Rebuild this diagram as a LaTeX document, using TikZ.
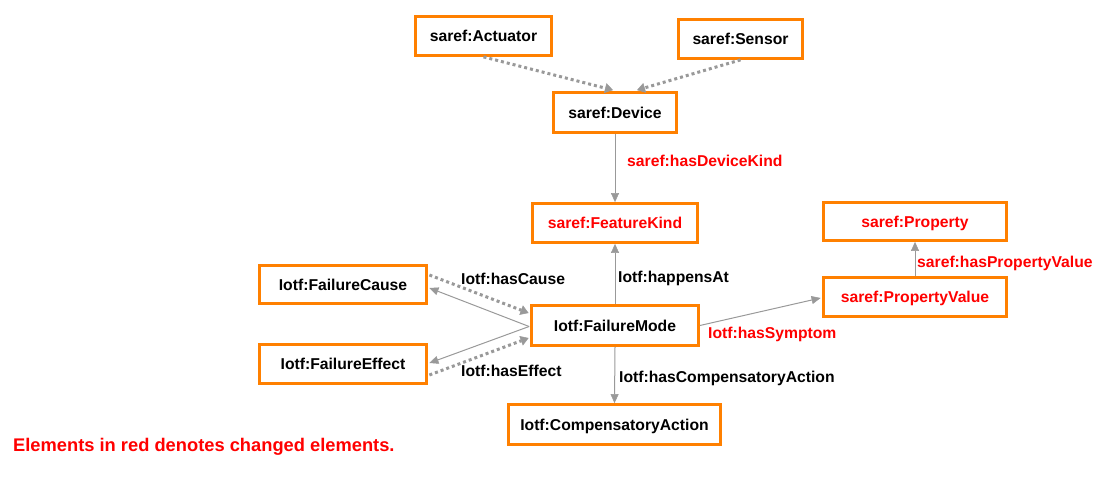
\documentclass[tikz,border=0pt]{standalone}
\usepackage{fontspec}
\setmainfont{Liberation Sans}
\usetikzlibrary{arrows.meta,calc}
\definecolor{boxorange}{RGB}{255,128,0}
\definecolor{chred}{RGB}{255,0,0}
\definecolor{linegray}{RGB}{153,153,153}
\tikzset{
  box/.style={draw=boxorange, line width=2.8pt, fill=white, inner sep=0pt,
    font=\fontsize{15.7}{18}\selectfont\bfseries, text height=11.3pt, text depth=0pt},
  redtxt/.style={text=chred},
  lbl/.style={anchor=base west, inner sep=0pt, font=\fontsize{15.7}{18}\selectfont\bfseries},
  rel/.style={draw=linegray, line width=1pt, -{Triangle[length=9pt,width=8pt,line width=0.5pt]}},
  sub/.style={draw=linegray, line width=3pt, dash pattern=on 3pt off 3pt,
    -{Triangle[length=8pt,width=10pt,line width=0.5pt]}}
}
\begin{document}
\begin{tikzpicture}[x=1pt,y=-1pt]
\useasboundingbox (0,0) rectangle (1111,487);
\node[box, minimum width=136pt, minimum height=39pt] (act) at (483.5,36) {saref:Actuator};
\node[box, minimum width=124pt, minimum height=39pt] (sen) at (740.5,39) {saref:Sensor};
\node[box, minimum width=123pt, minimum height=40pt] (dev) at (615,112.5) {saref:Device};
\node[box, redtxt, minimum width=165pt, minimum height=39pt] (fk) at (615,223) {saref:FeatureKind};
\node[box, redtxt, minimum width=183pt, minimum height=38pt] (prop) at (915,221.5) {saref:Property};
\node[box, redtxt, minimum width=183pt, minimum height=39pt] (pv) at (915,297) {saref:PropertyValue};
\node[box, minimum width=167pt, minimum height=38pt] (fc) at (343,284.5) {Iotf:FailureCause};
\node[box, minimum width=167pt, minimum height=40pt] (fm) at (615,325.5) {Iotf:FailureMode};
\node[box, minimum width=167pt, minimum height=39pt] (fe) at (343,364) {Iotf:FailureEffect};
\node[box, minimum width=212pt, minimum height=40pt] (ca) at (614.5,424.5) {Iotf:CompensatoryAction};

\coordinate (devA) at ($(dev.north)+(-2,-1)$);
\coordinate (devS) at ($(dev.north)+(22,-1)$);
\draw[sub] (act.south) -- (devA);
\draw[sub] (sen.south) -- (devS);

\draw[rel] (dev.south) -- (fk.north);
\draw[rel] (fm.north) -- (fk.south);
\draw[rel] (fm.south) -- (ca.north);
\draw[rel] (fm.east) -- ($(pv.west)+(-1.5,1)$);
\draw[rel] (pv.north) -- (prop.south);

\coordinate (fmw) at ($(fm.west)+(-1,1)$);
\draw[rel] (fmw) -- ($(fc.east)+(1.5,3.5)$);
\draw[rel] (fmw) -- ($(fe.east)+(1.5,-1)$);
\draw[sub] ($(fc.east)+(1.5,-9.5)$) -- ($(fm.west)+(-1.5,-12.5)$);
\draw[sub] ($(fe.east)+(1.5,11)$) -- ($(fm.west)+(-1.5,12.5)$);

\node[lbl, text=chred] (l1) at (627,166.5) {saref:hasDeviceKind};
\node[lbl] (l2) at (618,282.5) {Iotf:happensAt};
\node[lbl] (l3) at (619,382.5) {Iotf:hasCompensatoryAction};
\node[lbl, text=chred] (l4) at (708,338.5) {Iotf:hasSymptom};
\node[lbl, text=chred] (l5) at (917,267.5) {saref:hasPropertyValue};
\node[lbl] (l6) at (461,284.5) {Iotf:hasCause};
\node[lbl] (l7) at (461,376.5) {Iotf:hasEffect};

\node[anchor=base west, inner sep=0pt, text=chred, font=\fontsize{18.3}{21}\selectfont\bfseries] (legend) at (13,451) {Elements in red denotes changed elements.};
\end{tikzpicture}
\end{document}
